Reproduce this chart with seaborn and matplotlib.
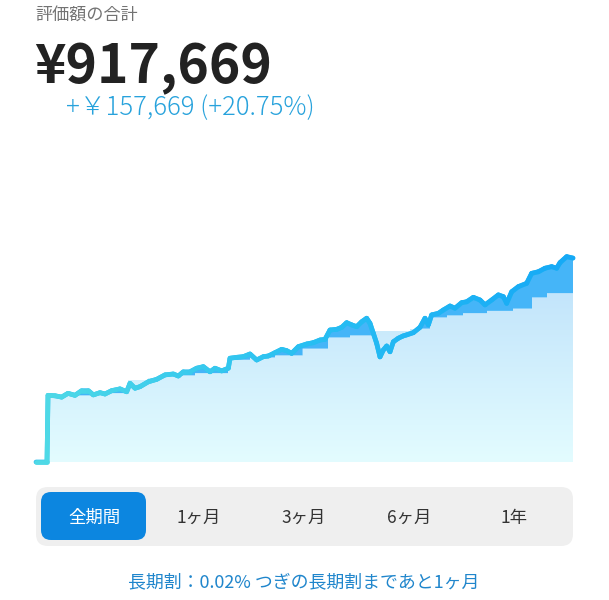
import numpy as np
import matplotlib
matplotlib.use("Agg")
import matplotlib.pyplot as plt
import seaborn as sns
from matplotlib.collections import LineCollection
from matplotlib.patches import FancyBboxPatch
from matplotlib.colors import LinearSegmentedColormap

# ---------------- data ----------------
title_label = "評価額の合計"
total_text = "¥917,669"
gain_text = "+￥157,669 (+20.75%)"
period_labels = ["全期間", "1ヶ月", "3ヶ月", "6ヶ月", "1年"]
note_text = "長期割：0.02% つぎの長期割まであと1ヶ月"

# valuation (day number, yen)
val_days = [0, 33, 36, 57, 77, 96, 117, 137, 157, 172, 192, 207, 227, 252, 272,
            282, 297, 312, 337, 362, 387, 412, 427, 442, 462, 482, 502, 522, 537,
            557, 577, 582, 602, 622, 642, 662, 682, 697, 717, 737, 752, 767, 787,
            812, 832, 852, 867, 882, 902, 917, 932, 947, 962, 977, 992, 1002, 1012,
            1022, 1032, 1042, 1052, 1062, 1072, 1087, 1101, 1112, 1132, 1152, 1167,
            1177, 1187, 1207, 1222, 1242, 1257, 1277, 1292, 1312, 1332, 1347, 1367,
            1387, 1402, 1412, 1427, 1447, 1472, 1487, 1507, 1527, 1547, 1562, 1572,
            1592, 1611]
val_yen = [0, 0, 300000, 298000, 292000, 309000, 300000, 321000, 321000, 302000,
           312000, 306000, 321000, 329000, 316000, 354000, 332000, 339000, 361000,
           372000, 392000, 396000, 387000, 406000, 406000, 422000, 429000, 406000,
           422000, 410000, 422000, 467000, 471000, 474000, 486000, 459000, 474000,
           477000, 492000, 507000, 501000, 489000, 519000, 531000, 537000, 549000,
           552000, 594000, 597000, 606000, 627000, 617000, 609000, 631000, 647000,
           624000, 579000, 534000, 473000, 504000, 522000, 496000, 541000, 557000,
           567000, 572000, 582000, 606000, 647000, 617000, 662000, 669000, 684000,
           702000, 692000, 717000, 721000, 741000, 729000, 707000, 729000, 752000,
           744000, 714000, 766000, 789000, 804000, 849000, 856000, 872000, 879000,
           872000, 897000, 924000, 917669]

# invested principal: step changes (day number, yen)
dep_days = [0, 36, 162, 276, 336, 387, 477, 576, 642, 717, 800, 876, 942, 1008,
            1122, 1182, 1233, 1281, 1353, 1431, 1488, 1533]
dep_yen = [0, 300000, 310000, 370000, 380000, 390000, 400000, 460000, 470000,
           480000, 510000, 560000, 570000, 590000, 600000, 650000, 660000,
           670000, 680000, 690000, 740000, 760000]

# ---------------- style ----------------
sns.set_theme(style="white")
plt.rcParams["font.family"] = ["Noto Sans CJK JP", "DejaVu Sans"]

W, H = 609, 600
fig = plt.figure(figsize=(W / 100, H / 100), dpi=100)
fig.patch.set_facecolor("white")

# UI overlay axes in pixel coordinates
ui = fig.add_axes([0, 0, 1, 1])
ui.set_xlim(0, W)
ui.set_ylim(H, 0)
ui.axis("off")

# chart axes
x_left, x_right, y_base, y_top = 36, 573, 462, 130
ax = fig.add_axes([x_left / W, 1 - y_base / H, (x_right - x_left) / W, (y_base - y_top) / H])
ax.patch.set_alpha(0)
ax.set_xlim(0, val_days[-1])
ax.set_ylim(0, (y_base - y_top) * 4500)
ax.axis("off")

vd = np.array(val_days, float)
vv = np.array(val_yen, float)
dd = np.array(dep_days, float)
dv = np.array(dep_yen, float)

grid = np.union1d(vd, dd)
X, P, V = [], [], []
for x in grid:
    v = np.interp(x, vd, vv)
    idx = np.searchsorted(dd, x, side="right") - 1
    p_new = dv[idx] if idx >= 0 else 0.0
    if x in dd and idx > 0:
        X.append(x); P.append(dv[idx - 1]); V.append(v)
    X.append(x); P.append(p_new); V.append(v)
X, P, V = map(np.array, (X, P, V))

# light gradient area under principal
poly = ax.fill_between(X, 0, P, color="none", linewidth=0)
light_cmap = LinearSegmentedColormap.from_list("light", ["#e3fcff", "#c3e5fb"])
grad = np.linspace(0, 1, 256).reshape(-1, 1)
img = ax.imshow(grad, cmap=light_cmap, aspect="auto", origin="lower",
                extent=[0, val_days[-1], 0, dv.max()], zorder=1)
img.set_clip_path(poly.get_paths()[0], transform=ax.transData)

# gain area between principal and valuation
ax.fill_between(X, P, V, where=V >= P, interpolate=True, color="#45b5f8",
                linewidth=0, zorder=2)

# valuation line
sns.lineplot(x=vd, y=vv, ax=ax, color="#2cbdf0", linewidth=3.4, estimator=None,
             zorder=3)
for ln in ax.lines:
    ln.set_clip_on(False)
    ln.set_solid_capstyle("round")
pts = np.column_stack([vd, vv]).reshape(-1, 1, 2)
segs = np.concatenate([pts[:-1], pts[1:]], axis=1)
line_cmap = LinearSegmentedColormap.from_list("line", ["#4fd9e6", "#28bff2", "#16a9f6"])
lc = LineCollection(segs, cmap=line_cmap, linewidth=3.4, zorder=4,
                    capstyle="round", joinstyle="round")
lc.set_array((vd[:-1] + vd[1:]) / 2 / vd.max())
lc.set_clip_on(False)
ax.add_collection(lc)

# ---------------- texts ----------------
ui.text(35, 16, title_label, fontsize=12.3, color="#737373", va="center", ha="left")
ui.text(34, 83, total_text, fontsize=38.5, fontweight="bold", color="#222222",
        va="baseline", ha="left")
ui.text(66, 115, gain_text, fontsize=18.5, fontweight="light", color="#27a2dc",
        va="baseline", ha="left")

# period selector
ui.add_patch(FancyBboxPatch((36, 487), 537, 59,
                            boxstyle="round,pad=0,rounding_size=12",
                            facecolor="#efefef", edgecolor="none"))
ui.add_patch(FancyBboxPatch((41, 492), 105, 48,
                            boxstyle="round,pad=0,rounding_size=10",
                            facecolor="#0c86e0", edgecolor="none"))
centers = [94, 199, 304, 409, 514]
for i, (lab, cx) in enumerate(zip(period_labels, centers)):
    ui.text(cx, 518, lab, fontsize=12.5, color="white" if i == 0 else "#333333",
            ha="center", va="center")

ui.text(304, 582, note_text, fontsize=12.9, color="#2086cc", ha="center", va="center")

fig.savefig("out.png", dpi=100)
